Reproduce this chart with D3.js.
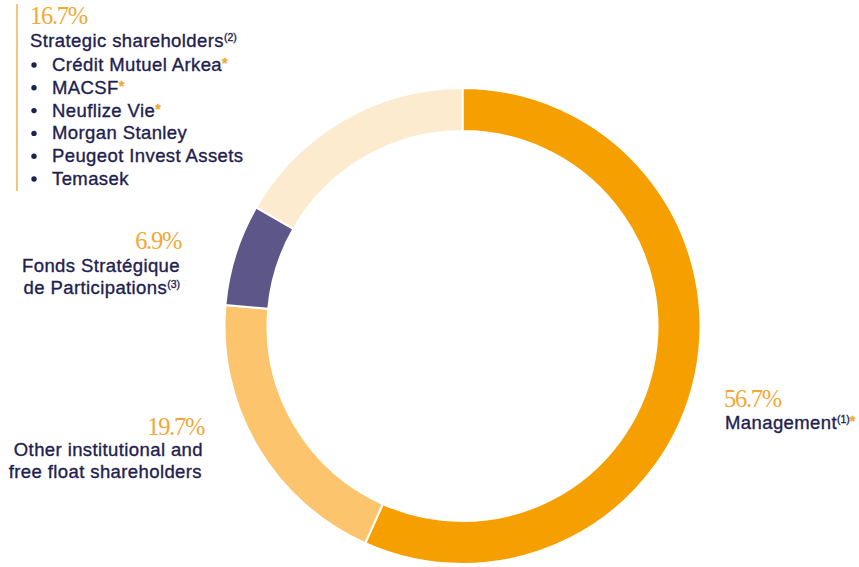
<!DOCTYPE html>
<html>
<head>
<meta charset="utf-8">
<script src="https://cdn.jsdelivr.net/npm/d3@7"></script>
<style>
  html, body { margin: 0; padding: 0; background: #fff; }
  svg { display: block; }
</style>
</head>
<body>
<svg id="chart" width="859" height="567"></svg>
<script>
// ---- data ----
const categories = ["Management", "Other institutional and free float shareholders", "Fonds Stratégique de Participations", "Strategic shareholders"];
const values = [56.7, 19.7, 6.9, 16.7];
const colors = ["#F5A000", "#FCC46C", "#5C5788", "#FCEBCF"];
const strategicMembers = ["Crédit Mutuel Arkea", "MACSF", "Neuflize Vie", "Morgan Stanley", "Peugeot Invest Assets", "Temasek"];
const strategicStarred = [true, true, true, false, false, false];

const navy = "#1E2150";
const gold = "#F1A836";
const sans = "'Liberation Sans', Arial, Helvetica, sans-serif";
const serif = "'Liberation Serif', 'Times New Roman', serif";

const svg = d3.select("#chart");

// ---- donut ----
const cx = 462.5, cy = 326, outerR = 238, innerR = 195;
const pie = d3.pie().sort(null).value(d => d)(values);
const arc = d3.arc().innerRadius(innerR).outerRadius(outerR);
svg.append("g").attr("transform", `translate(${cx},${cy})`)
  .selectAll("path").data(pie).join("path")
  .attr("d", arc)
  .attr("fill", (d, i) => colors[i])
  .attr("stroke", "#fff")
  .attr("stroke-width", 2);

const fmt = v => v.toFixed(1) + "%";

function pct(x, y, v, anchor) {
  svg.append("text").attr("x", x).attr("y", y)
    .attr("text-anchor", anchor)
    .attr("font-family", serif).attr("font-size", 24.5)
    .attr("letter-spacing", "-1.3px")
    .attr("fill", gold).text(fmt(v));
}
function line(x, y, anchor, parts) {
  const t = svg.append("text").attr("x", x).attr("y", y)
    .attr("text-anchor", anchor)
    .attr("font-family", sans).attr("font-size", 18.5)
    .attr("letter-spacing", "0.4px")
    .attr("fill", navy)
    .attr("stroke", navy).attr("stroke-width", 0.35);
  parts.forEach(p => {
    if (typeof p === "string") t.append("tspan").text(p);
    else {
      t.append("tspan").attr("font-size", p.size || 10).attr("dy", p.dy || -6)
        .attr("fill", p.color || navy).attr("stroke", p.color || navy)
        .attr("font-weight", p.bold ? "bold" : null)
        .attr("letter-spacing", "0px").text(p.text);
    }
  });
  return t;
}

// ---- Strategic shareholders block ----
svg.append("line").attr("x1", 17).attr("x2", 17).attr("y1", 4).attr("y2", 191)
  .attr("stroke", "#F0B450").attr("stroke-width", 1.5);
pct(30, 24, values[3], "start");
line(30, 47, "start", ["Strategic shareholders", {text: "(2)", size: 10.5, dy: -6}]);
strategicMembers.forEach((m, i) => {
  const y = 71 + i * 22.8;
  svg.append("circle").attr("cx", 34).attr("cy", y - 6).attr("r", 2.7).attr("fill", navy);
  const parts = [m];
  if (strategicStarred[i]) parts.push({text: "*", size: 14, dy: -3, color: gold, bold: true});
  line(52, y, "start", parts);
});

// ---- Fonds Stratégique ----
pct(181, 249, values[2], "end");
line(180, 272, "end", ["Fonds Stratégique"]);
line(180, 294, "end", ["de Participations", {text: "(3)", size: 10.5, dy: -6}]);

// ---- Other institutional ----
pct(204, 435, values[1], "end");
line(203, 456, "end", ["Other institutional and"]);
line(202, 478, "end", ["free float shareholders"]);

// ---- Management ----
pct(724, 407, values[0], "start");
line(725, 429, "start", ["Management", {text: "(1)", size: 10.5, dy: -6}, {text: "*", size: 14, dy: 3, color: gold, bold: true}]);
</script>
</body>
</html>
